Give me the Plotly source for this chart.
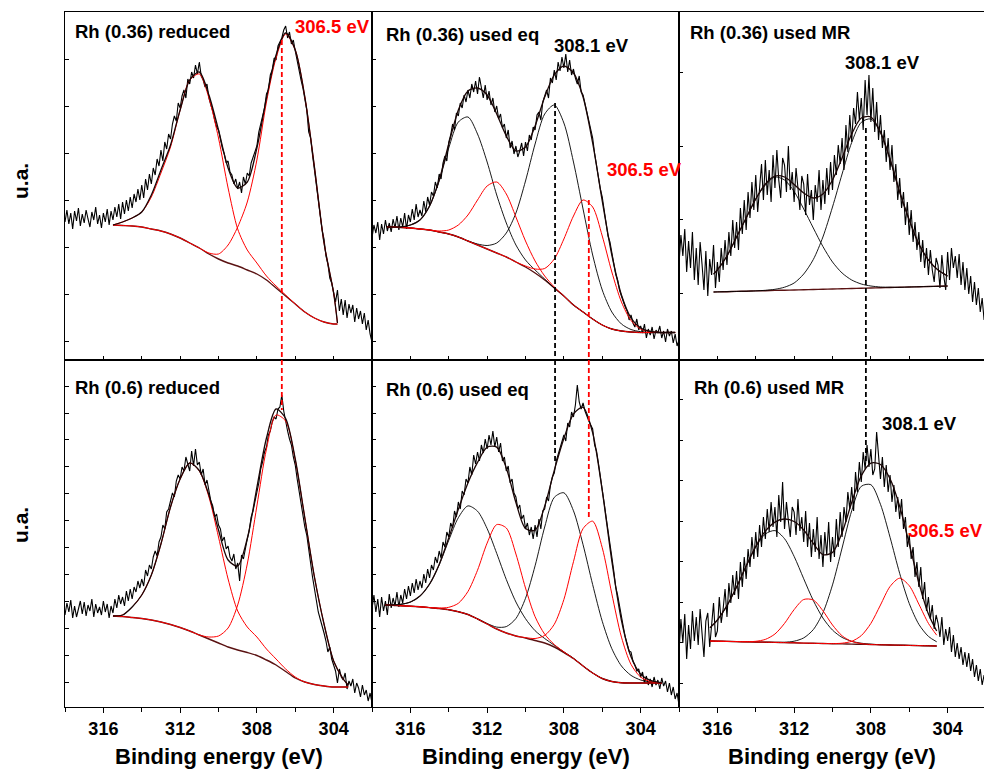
import plotly.graph_objects as go
from plotly.subplots import make_subplots

FONT = "Liberation Sans, Arial, Helvetica, sans-serif"

# binding-energy grid of the measured spectra (318 -> 302 eV, 0.1 eV step)
RAW_E = [round(318.0 - 0.1 * i, 1) for i in range(161)]

X_LABEL_TICKS = [316, 312, 308, 304]
X_MINOR_TICKS = [318, 314, 310, 306, 302]

TITLES = ["Rh (0.36) reduced", "Rh (0.36) used eq", "Rh (0.36) used MR",
          "Rh (0.6) reduced", "Rh (0.6) used eq", "Rh (0.6) used MR"]

# ---------------- panel 1 : Rh (0.36) reduced ----------------
P1_RAW = [
    138, 150, 136, 147, 131, 149, 139, 152, 134, 146,
    137, 150, 141, 133, 148, 140, 153, 136, 145, 132,
    147, 138, 151, 135, 149, 140, 153, 143, 156, 141,
    158, 146, 160, 149, 163, 152, 166, 158, 171, 160,
    175, 162, 181, 170, 186, 176, 192, 185, 201, 194,
    210, 199, 218, 211, 226, 221, 236, 244, 239, 257,
    252, 264, 270, 262, 281, 276, 288, 282, 295, 286,
    298, 284, 280, 273, 276, 262, 255, 249, 240, 233,
    230, 219, 212, 206, 197, 199, 188, 185, 176, 181,
    171, 178, 167, 183, 176, 187, 184, 197, 203, 210,
    214, 228, 236, 247, 252, 266, 270, 285, 290, 302,
    300, 314, 318, 322, 330, 334, 322, 328, 316, 320,
    309, 298, 291, 280, 272, 262, 250, 228, 222, 205,
    190, 178, 160, 148, 130, 121, 104, 96, 82, 77,
    66, 58, 70, 49, 61, 45, 60, 42, 56, 47,
    55, 38, 52, 41, 49, 36, 47, 30, 40, 26,
    18]
P1_FIT_E = [315.5, 315.0, 314.5, 314.0, 313.5, 313.0, 312.5, 312.0, 311.5, 311.0,
            310.5, 310.0, 309.5, 309.0, 308.5, 308.0, 307.5, 307.0, 306.5, 306.0,
            305.5, 305.0, 304.5, 304.0, 303.8]
P1_BG = [135, 134.5, 134, 133, 131, 129, 126, 122, 117, 112,
         106, 101, 97, 94, 90, 86, 80, 72, 64, 56,
         48, 42, 38, 36, 36]
P1_RED1 = [135, 138, 142, 148, 163, 187, 213, 250, 280, 286,
           262, 222, 172, 131, 110, 97, 84, 74, 65, 56,
           48, 42, 38, 36, 36]
P1_RED2 = [135, 134.5, 134, 133, 131, 129, 126, 122, 117, 112,
           107, 106, 115, 133, 158, 200, 258, 302, 326, 310,
           263, 193, 117, 67, 37]
P1_ENV = [135, 138, 142, 148, 165, 190, 215, 250, 280, 288,
          265, 230, 192, 172, 178, 212, 262, 305, 327, 310,
          263, 193, 117, 67, 37]

# ---------------- panel 2 : Rh (0.36) used eq ----------------
P2_RAW = [
    122, 135, 127, 138, 120, 136, 126, 140, 129, 137,
    128, 141, 132, 144, 130, 142, 133, 147, 131, 145,
    138, 151, 140, 156, 143, 150, 144, 159, 148, 163,
    155, 168, 164, 178, 172, 186, 181, 197, 204, 199,
    218, 225, 236, 230, 247, 244, 257, 252, 265, 258,
    270, 262, 276, 268, 279, 266, 283, 271, 262, 275,
    260, 269, 255, 262, 248, 254, 241, 246, 232, 236,
    222, 230, 212, 219, 206, 214, 203, 209, 217, 204,
    218, 209, 225, 220, 233, 230, 245, 248, 240, 258,
    265, 270, 262, 282, 277, 290, 280, 298, 289, 303,
    292, 306, 288, 300, 285, 291, 282, 276, 284, 268,
    265, 256, 248, 240, 229, 222, 207, 194, 186, 171,
    163, 150, 140, 124, 118, 108, 97, 86, 80, 70,
    64, 58, 53, 49, 40, 45, 37, 33, 41, 30,
    34, 27, 36, 22, 31, 25, 33, 21, 30, 27,
    34, 22, 29, 18, 31, 24, 29, 17, 26, 14,
    20]
P2_FIT_E = [317.2, 317.0, 316.5, 316.0, 315.5, 315.0, 314.5, 314.0, 313.5, 313.0,
            312.5, 312.0, 311.5, 311.0, 310.5, 310.0, 309.5, 309.0, 308.5, 308.0,
            307.5, 307.0, 306.5, 306.0, 305.5, 305.0, 304.5, 304.0, 303.5, 303.0,
            302.5, 302.2]
P2_BG = [133, 133, 132.5, 132, 131, 130, 128, 126, 123, 119,
         115, 111, 107, 103, 98, 93, 87, 80, 72, 64,
         55, 48, 41, 35, 31, 29, 28, 27.5, 27.5, 27.5,
         27.5, 27.5]
P2_BLK1 = [133, 133, 133, 135, 140, 154, 179, 212, 238, 243,
           226, 198, 165, 137, 115, 100, 90, 81, 72, 64,
           55, 48, 41, 35, 31, 29, 28, 27.5, 27.5, 27.5,
           27.5, 27.5]
P2_BLK2 = [133, 133, 132.5, 132, 131, 130, 128, 126, 123, 119,
           116, 114.5, 117, 127, 147, 179, 216, 246, 255, 237,
           198, 151, 105, 70, 48, 36, 30.5, 28.3, 27.5, 27.5,
           27.5, 27.5]
P2_RED1 = [133, 133, 132.5, 132, 131, 130, 129, 130, 135, 145,
           160, 174, 178, 166, 143, 119, 99, 84, 73, 64,
           55, 48, 41, 35, 31, 29, 28, 27.5, 27.5, 27.5,
           27.5, 27.5]
P2_RED2 = [133, 133, 132.5, 132, 131, 130, 128, 126, 123, 119,
           115, 111, 107, 103, 98, 94, 91, 91.5, 101, 121,
           144, 160, 153, 124, 88, 58, 39.5, 31, 28.5, 27.5,
           27.5, 27.5]
P2_ENV = [133, 133, 133, 135, 140, 154, 180, 216, 250, 269,
          272, 265, 246, 224, 209, 213, 234, 263, 285, 294,
          287, 263, 217, 159, 105, 65, 42, 32, 28.5, 27.5,
          27.5, 27.5]

# ---------------- panel 3 : Rh (0.36) used MR ----------------
P3_RAW = [
    96, 125, 104, 131, 88, 119, 92, 128, 80, 112,
    75, 118, 96, 70, 109, 64, 101, 85, 115, 72,
    98, 78, 112, 90, 120, 95, 128, 104, 140, 112,
    138, 110, 152, 126, 160, 130, 168, 142, 178, 150,
    185, 148, 172, 196, 160, 200, 165, 190, 158, 205,
    172, 210, 180, 162, 202, 195, 168, 214, 170, 188,
    158, 192, 172, 150, 184, 176, 145, 186, 155, 170,
    140, 175, 158, 190, 150, 180, 156, 192, 165, 198,
    170, 205, 185, 215, 196, 222, 190, 235, 208, 245,
    218, 252, 236, 268, 240, 262, 230, 280, 245, 285,
    238, 272, 228, 258, 220, 245, 212, 230, 198, 222,
    190, 215, 178, 196, 160, 182, 152, 168, 135, 158,
    125, 150, 118, 138, 110, 128, 98, 120, 92, 112,
    85, 110, 90, 78, 102, 95, 72, 105, 84, 70,
    108, 80, 112, 92, 104, 82, 106, 75, 98, 70,
    92, 66, 84, 58, 78, 55, 72, 48, 62, 40,
    45]
P3_FIT_E = [316.2, 316.0, 315.5, 315.0, 314.5, 314.0, 313.5, 313.0, 312.5, 312.0,
            311.5, 311.0, 310.5, 310.0, 309.5, 309.0, 308.5, 308.0, 307.5, 307.0,
            306.5, 306.0, 305.5, 305.0, 304.5, 304.0]
P3_BG = [68.0, 68.1, 68.3, 68.6, 68.8, 69.1, 69.3, 69.6, 69.8, 70.0,
         70.3, 70.5, 70.8, 71.0, 71.2, 71.5, 71.7, 72.0, 72.2, 72.5,
         72.7, 73.0, 73.2, 73.5, 73.7, 74.0]
P3_BLK1 = [86, 90, 104, 123, 142, 161, 175, 183, 180, 168.5,
           151, 132, 113.5, 98, 87, 80, 76, 74, 73, 72.8,
           72.7, 73, 73.2, 73.5, 73.7, 74]
P3_BLK2 = [68.0, 68.1, 68.3, 68.6, 68.8, 69.1, 69.7, 70.7, 72.8, 77,
           86, 100.5, 123, 153, 186, 217.5, 237.7, 241, 227, 200.5,
           167.7, 140, 116, 100, 90, 84]
P3_ENV = [86, 90, 104, 123, 142, 161, 176, 184, 183, 175.5,
          167, 162, 166, 180, 202, 226, 242, 243, 228, 201,
          168, 140, 116, 100, 90, 84]

# ---------------- panel 4 : Rh (0.6) reduced ----------------
P4_RAW = [
    92, 104, 95, 107, 89, 101, 90, 99, 106, 93,
    105, 91, 102, 96, 108, 90, 103, 94, 100, 92,
    106, 95, 103, 89, 101, 94, 108, 99, 112, 103,
    110, 101, 116, 106, 118, 108, 120, 115, 126, 119,
    128, 121, 137, 131, 142, 138, 150, 156, 151, 165,
    170, 182, 178, 195, 198, 206, 214, 210, 226, 232,
    228, 240, 236, 250, 244, 236, 256, 241, 258, 242,
    245, 232, 238, 222, 227, 214, 206, 201, 190, 193,
    182, 178, 166, 170, 158, 161, 150, 146, 153, 138,
    144, 126, 152, 148, 160, 168, 176, 190, 196, 205,
    215, 224, 238, 245, 255, 260, 272, 276, 285, 290,
    288, 298, 300, 312, 296, 285, 276, 268, 262, 250,
    242, 228, 215, 206, 192, 180, 172, 155, 144, 130,
    118, 106, 95, 88, 82, 74, 66, 55, 60, 48,
    42, 36, 24, 38, 30, 27, 34, 18, 26, 21,
    28, 14, 24, 19, 10, 22, 12, 17, 6, 14,
    4]
P4_FIT_E = [315.5, 315.0, 314.5, 314.0, 313.5, 313.0, 312.5, 312.0, 311.5, 311.0,
            310.5, 310.0, 309.5, 309.0, 308.5, 308.0, 307.5, 307.0, 306.5, 306.0,
            305.5, 305.0, 304.5, 304.0, 303.5, 303.24]
P4_BG = [91, 90.5, 89.5, 88.5, 87, 85, 82.5, 79.5, 76, 72,
         68, 64, 60, 57, 54.5, 51.5, 47, 42, 35.5, 29,
         25, 22.5, 21, 20, 20, 20]
P4_RED1 = [91, 92, 100, 112, 132, 163, 200, 228, 244, 236,
           210, 170, 128, 96, 80, 70, 58, 48, 38, 30,
           25, 22.5, 21, 20, 20, 20]
P4_RED2 = [91, 90.5, 89.5, 88.5, 87, 85, 82.5, 79.5, 76, 72,
           70, 71, 79, 102, 143, 201, 258, 292, 286, 247,
           189, 130, 83, 46, 28, 22]
P4_ENV = [91, 92, 100, 112, 132, 163, 200, 228, 244, 236.5,
          212, 177, 147, 141, 168.5, 219.5, 269, 298, 288.5, 248,
          189, 130, 83, 46, 28, 22]

# ---------------- panel 5 : Rh (0.6) used eq ----------------
P5_RAW = [
    98, 112, 95, 108, 90, 110, 96, 106, 92, 113,
    99, 109, 101, 115, 100, 112, 104, 118, 108, 121,
    111, 124, 114, 128, 117, 126, 119, 133, 124, 138,
    129, 142, 137, 150, 144, 156, 149, 165, 160, 175,
    170, 184, 179, 196, 190, 205, 198, 216, 212, 228,
    224, 240, 232, 252, 243, 255, 246, 262, 254, 268,
    258, 272, 262, 276, 260, 270, 255, 264, 246, 250,
    236, 241, 224, 228, 214, 210, 198, 202, 188, 192,
    178, 184, 172, 180, 168, 182, 170, 188, 178, 196,
    198, 210, 206, 222, 230, 234, 246, 252, 258, 266,
    272, 266, 284, 280, 295, 290, 302, 322, 305, 298,
    304, 296, 290, 286, 282, 278, 262, 256, 244, 232,
    220, 204, 190, 175, 164, 150, 136, 120, 112, 100,
    92, 80, 70, 64, 56, 55, 46, 42, 36, 38,
    30, 35, 24, 31, 22, 28, 20, 30, 22, 27,
    18, 29, 21, 26, 15, 24, 12, 20, 8, 14,
    2]
P5_FIT_E = [317.32, 317.0, 316.5, 316.0, 315.5, 315.0, 314.5, 314.0, 313.5, 313.0,
            312.5, 312.0, 311.5, 311.0, 310.5, 310.0, 309.5, 309.0, 308.5, 308.0,
            307.5, 307.0, 306.5, 306.0, 305.5, 305.0, 304.5, 304.0, 303.5, 303.0,
            302.9]
P5_BG = [102, 101.7, 101.3, 100.8, 100.2, 99.4, 98.5, 97.3, 95.3, 92.5,
         88, 83, 78, 74, 71, 69, 66.5, 64, 60, 54.5,
         48.5, 41, 34, 28.5, 25.5, 24.2, 24, 24, 24, 24,
         24]
P5_BLK1 = [102.2, 102.1, 102.7, 104.9, 110.9, 122.8, 142, 166.7, 189.3, 201.1,
           195.8, 178.4, 153.6, 127.5, 105, 88.3, 76.3, 68.5, 61.8, 55.2,
           48.7, 41, 34, 28.5, 25.5, 24.2, 24, 24, 24, 24,
           24]
P5_BLK2 = [102, 101.7, 101.3, 100.8, 100.2, 99.4, 98.5, 97.3, 95.3, 92.5,
           88.1, 83.5, 79.9, 80.4, 88.5, 108.7, 141.2, 180, 209.6, 214.2,
           196.2, 162.3, 122.4, 85.7, 58.3, 41, 31.6, 27, 25.1, 24.3,
           24.1]
P5_RED1 = [102, 101.7, 101.3, 100.8, 100.2, 99.5, 99, 99.7, 103.7, 115.5,
           136.8, 163.9, 182.4, 179, 153, 119, 90.3, 72.8, 62.5, 55.1,
           48.5, 41, 34, 28.5, 25.5, 24.2, 24, 24, 24, 24,
           24]
P5_RED2 = [102, 101.7, 101.3, 100.8, 100.2, 99.4, 98.5, 97.3, 95.3, 92.5,
           88, 83, 78, 74, 71, 69.4, 68.5, 71.6, 82.7, 107.5,
           145.3, 178.4, 185.8, 159.2, 113.1, 69.9, 42.6, 29.9, 25.5, 24.3,
           24.1]
P5_ENV = [102, 102, 102.7, 105, 111, 123, 142.6, 169, 197.7, 224.1,
          244.6, 259.8, 259.9, 238.9, 204.5, 178.4, 176.8, 200.9, 236.6, 268.5,
          293, 299.7, 274.2, 216.4, 145.9, 86.7, 50.2, 32.9, 26.6, 24.6,
          24.2]

# ---------------- panel 6 : Rh (0.6) used MR ----------------
P6_RAW = [
    55, 88, 64, 93, 48, 82, 58, 96, 66, 90,
    62, 98, 74, 50, 86, 94, 60, 82, 104, 70,
    76, 110, 84, 98, 118, 90, 124, 104, 132, 112,
    136, 108, 145, 120, 150, 128, 158, 140, 170, 148,
    175, 150, 182, 160, 190, 168, 198, 175, 205, 180,
    200, 170, 212, 185, 225, 178, 205, 186, 170, 200,
    195, 172, 208, 176, 190, 165, 196, 160, 184, 150,
    178, 155, 190, 148, 172, 140, 175, 152, 185, 145,
    170, 150, 188, 160, 195, 170, 200, 185, 215, 198,
    220, 196, 235, 215, 245, 225, 255, 238, 262, 240,
    258, 232, 238, 275, 252, 228, 250, 220, 242, 215,
    232, 205, 222, 195, 210, 188, 208, 178, 190, 160,
    172, 148, 160, 130, 145, 120, 140, 108, 125, 96,
    110, 88, 102, 78, 92, 84, 70, 90, 62, 78,
    66, 80, 55, 72, 50, 64, 48, 60, 42, 55,
    40, 54, 36, 48, 30, 42, 26, 38, 22, 32,
    25]
P6_FIT_E = [316.38, 316.0, 315.5, 315.0, 314.5, 314.0, 313.5, 313.0, 312.5, 312.0,
            311.5, 311.0, 310.5, 310.0, 309.5, 309.0, 308.5, 308.0, 307.5, 307.0,
            306.5, 306.0, 305.5, 305.0, 304.57]
P6_BG = [66.0, 65.8, 65.6, 65.4, 65.2, 65.0, 64.8, 64.6, 64.4, 64.2,
         63.9, 63.7, 63.5, 63.3, 63.1, 62.9, 62.7, 62.5, 62.2, 62.0,
         61.8, 61.6, 61.4, 61.2, 61.0]
P6_BLK1 = [79.3, 87, 101.3, 119.9, 140.8, 160, 173, 176.4, 168.3, 150.6,
           128.2, 106.5, 89, 76.9, 69.6, 65.7, 63.8, 62.8, 62.3, 62.0,
           61.8, 61.6, 61.4, 61.2, 61.0]
P6_BLK2 = [66.0, 65.8, 65.6, 65.4, 65.2, 65.0, 64.8, 64.7, 64.8, 65.8,
           69.1, 77.4, 94.2, 122.1, 159, 196.2, 220.7, 222.3, 202.7, 169.7,
           133.7, 103.5, 82.7, 70.6, 65.2]
P6_RED1 = [66.0, 65.8, 65.6, 65.4, 65.3, 65.7, 67.6, 73, 83.6, 97.4,
           107.5, 107, 96.2, 82, 71.2, 65.6, 63.4, 62.5, 62.2, 62.0,
           61.8, 61.6, 61.4, 61.2, 61.0]
P6_RED2 = [66.0, 65.8, 65.6, 65.4, 65.2, 65.0, 64.8, 64.6, 64.4, 64.2,
           63.9, 63.7, 63.5, 63.4, 63.8, 65.7, 71.4, 83.6, 102, 120.5,
           128.8, 121.3, 102.9, 83.6, 71.8]
P6_ENV = [79.3, 87, 101.3, 120, 141, 160.7, 175.8, 184.9, 188, 185.5,
          177, 163.5, 152.4, 154.5, 174.3, 204.5, 231.2, 243.9, 242.5, 228.2,
          200.7, 163.2, 124.2, 93, 76]

# reference (peak-position) dashed lines: column, energy, colour,
# intensity where they start in the top panel / end in the bottom panel
REF_COLS = [1, 2, 2, 3]
REF_E = [306.7, 308.46, 306.7, 308.26]
REF_COLORS = ["#ff0000", "#000000", "#ff0000", "#000000"]
REF_TOP_V = [320, 257, 160, 232]
REF_BOTTOM_V = [297, 244, 187, 245]

PEAK_LABELS = [  # panel, text, colour
    (1, "306.5 eV", "#ff0000"),
    (2, "308.1 eV", "#000000"),
    (2, "306.5 eV", "#ff0000"),
    (3, "308.1 eV", "#000000"),
    (6, "308.1 eV", "#000000"),
    (6, "306.5 eV", "#ff0000"),
]

PANELS = [
    dict(raw=P1_RAW, e=P1_FIT_E, bg=P1_BG, black=[], red=[P1_RED1, P1_RED2], env=P1_ENV),
    dict(raw=P2_RAW, e=P2_FIT_E, bg=P2_BG, black=[P2_BLK1, P2_BLK2], red=[P2_RED1, P2_RED2], env=P2_ENV),
    dict(raw=P3_RAW, e=P3_FIT_E, bg=P3_BG, black=[P3_BLK1, P3_BLK2], red=[], env=P3_ENV),
    dict(raw=P4_RAW, e=P4_FIT_E, bg=P4_BG, black=[], red=[P4_RED1, P4_RED2], env=P4_ENV),
    dict(raw=P5_RAW, e=P5_FIT_E, bg=P5_BG, black=[P5_BLK1, P5_BLK2], red=[P5_RED1, P5_RED2], env=P5_ENV),
    dict(raw=P6_RAW, e=P6_FIT_E, bg=P6_BG, black=[P6_BLK1, P6_BLK2], red=[P6_RED1, P6_RED2], env=P6_ENV),
]

# ---------------------------------------------------------------- layout numbers
W, H = 984, 772
ML, MR, MT, MB = 65, 0, 12, 65
COL_W = [307, 307, 305]
ROW_H = [348, 347]
Y_MAX = [348, 347]
Y_TICKS = [(19, 47), (19, 47), (67, 73.5), (25, 26.9), (25, 26.9), (24, 40.5)]
TITLE_POS = [(0.026, 0.945), (0.039, 0.934), (0.029, 0.940),
             (0.026, 0.922), (0.039, 0.916), (0.042, 0.922)]
LABEL_POS = [(0.743, 0.957), (0.586, 0.905), (0.759, 0.546),
             (0.538, 0.856), (0.659, 0.818), (0.745, 0.510)]

BG_COLOR = "#5a1212"
RED = "#ff0000"

fig = make_subplots(rows=2, cols=3, column_widths=COL_W, row_heights=ROW_H,
                    horizontal_spacing=0, vertical_spacing=0)

for i, p in enumerate(PANELS):
    row, col = i // 3 + 1, i % 3 + 1
    assert len(p["raw"]) == len(RAW_E)
    for arr in [p["bg"], p["env"]] + p["black"] + p["red"]:
        assert len(arr) == len(p["e"])
    fig.add_trace(go.Scatter(x=RAW_E, y=p["raw"], mode="lines",
                             line=dict(color="black", width=1.1), hoverinfo="skip"),
                  row=row, col=col)
    fig.add_trace(go.Scatter(x=p["e"], y=p["bg"], mode="lines",
                             line=dict(color=BG_COLOR, width=1.4, shape="spline", smoothing=0.8),
                             hoverinfo="skip"), row=row, col=col)
    for comp in p["black"]:
        fig.add_trace(go.Scatter(x=p["e"], y=comp, mode="lines",
                                 line=dict(color="black", width=0.9, shape="spline", smoothing=0.8),
                                 hoverinfo="skip"), row=row, col=col)
    for comp in p["red"]:
        fig.add_trace(go.Scatter(x=p["e"], y=comp, mode="lines",
                                 line=dict(color=RED, width=1.0, shape="spline", smoothing=0.8),
                                 hoverinfo="skip"), row=row, col=col)
    fig.add_trace(go.Scatter(x=p["e"], y=p["env"], mode="lines",
                             line=dict(color="#1a0505", width=1.3, shape="spline", smoothing=0.8),
                             hoverinfo="skip"), row=row, col=col)

# dashed reference lines (segment in top panel + segment in bottom panel)
for c, e, clr, vt, vb in zip(REF_COLS, REF_E, REF_COLORS, REF_TOP_V, REF_BOTTOM_V):
    fig.add_trace(go.Scatter(x=[e, e], y=[vt, 0], mode="lines",
                             line=dict(color=clr, width=1.8, dash="5px,3px"), hoverinfo="skip"),
                  row=1, col=c)
    fig.add_trace(go.Scatter(x=[e, e], y=[Y_MAX[1], vb], mode="lines",
                             line=dict(color=clr, width=1.8, dash="5px,3px"), hoverinfo="skip"),
                  row=2, col=c)

axis_line = dict(showline=True, linecolor="black", linewidth=1.3, showgrid=False, zeroline=False)
for i in range(6):
    row, col = i // 3 + 1, i % 3 + 1
    xr = [318, 318 - 16 * COL_W[col - 1] / 307]
    if row == 2:
        fig.update_xaxes(range=xr, tickmode="array", tickvals=X_LABEL_TICKS,
                         ticktext=[str(v) for v in X_LABEL_TICKS],
                         ticks="outside", ticklen=5, tickwidth=1.2, tickcolor="black",
                         tickfont=dict(family=FONT, size=18, color="black", weight="bold"),
                         minor=dict(tickmode="array", tickvals=X_MINOR_TICKS, ticks="outside",
                                    ticklen=4, tickwidth=1.2, tickcolor="black"),
                         mirror=True, **axis_line, row=row, col=col)
    else:
        fig.update_xaxes(range=xr, tickmode="array", tickvals=X_LABEL_TICKS + X_MINOR_TICKS,
                         showticklabels=False, ticks="inside", ticklen=4, tickwidth=1.2,
                         tickcolor="black", mirror=True, **axis_line, row=row, col=col)
    t0, dt = Y_TICKS[i]
    fig.update_yaxes(range=[0, Y_MAX[row - 1]], tick0=t0, dtick=dt, showticklabels=False,
                     ticks="inside", ticklen=4, tickwidth=1.2, tickcolor="black",
                     mirror=(col < 3), **axis_line, row=row, col=col)

annotations = []
for i, t in enumerate(TITLES):
    ax = "" if i == 0 else str(i + 1)
    annotations.append(dict(text=t, xref=f"x{ax} domain", yref=f"y{ax} domain",
                            x=TITLE_POS[i][0], y=TITLE_POS[i][1], xanchor="left", yanchor="middle",
                            showarrow=False,
                            font=dict(family=FONT, size=18.5, color="black", weight="bold")))
for (pn, txt, clr), (lx, ly) in zip(PEAK_LABELS, LABEL_POS):
    ax = "" if pn == 1 else str(pn)
    annotations.append(dict(text=txt, xref=f"x{ax} domain", yref=f"y{ax} domain",
                            x=lx, y=ly, xanchor="left", yanchor="middle", showarrow=False,
                            font=dict(family=FONT, size=18.5, color=clr, weight="bold")))
plot_h = H - MT - MB
for yy in [181, 525]:
    annotations.append(dict(text="u.a.", xref="paper", yref="paper",
                            x=(20 - ML) / (W - ML - MR), y=(H - MB - yy) / plot_h,
                            textangle=-90, xanchor="center", yanchor="middle", showarrow=False,
                            font=dict(family=FONT, size=21, color="black", weight="bold")))
for c in range(3):
    annotations.append(dict(text="Binding energy (eV)", xref=f"x{c + 4} domain", yref="paper",
                            x=0.5, y=(H - MB - 756) / plot_h, xanchor="center", yanchor="middle",
                            showarrow=False,
                            font=dict(family=FONT, size=22, color="black", weight="bold")))

fig.update_layout(width=W, height=H, margin=dict(l=ML, r=MR, t=MT, b=MB),
                  paper_bgcolor="white", plot_bgcolor="white", showlegend=False,
                  annotations=annotations)

fig.write_html("out.html")
